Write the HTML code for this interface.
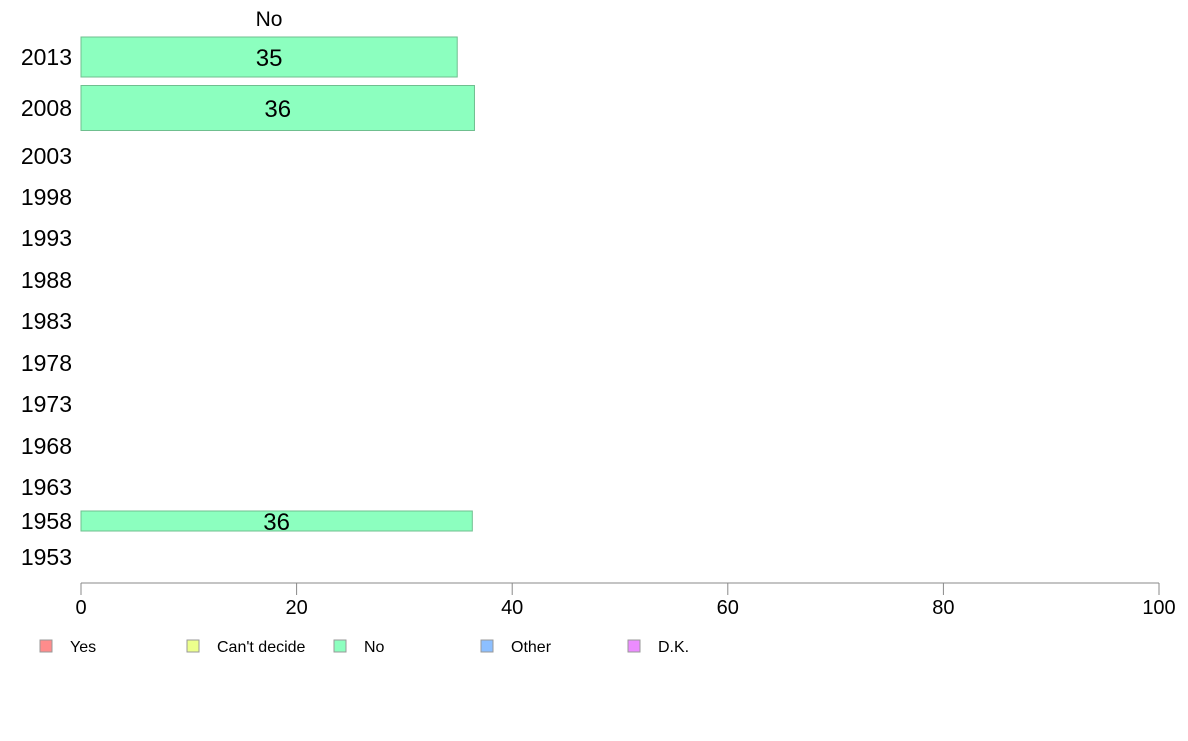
<!DOCTYPE html>
<html><head><meta charset="utf-8"><style>
body{margin:0;background:#fff;font-family:"Liberation Sans",sans-serif;}
svg text{font-family:"Liberation Sans",sans-serif;}
</style></head><body>
<svg id="chart" width="1188" height="736" xmlns="http://www.w3.org/2000/svg">
<text x="269" y="26" font-size="21" text-anchor="middle">No</text>
<g id="bars"></g>
<g id="ylabels"></g>
<g id="xaxis"></g>
<g id="legend"></g>
</svg>
<script>
const categories=["2013","2008","2003","1998","1993","1988","1983","1978","1973","1968","1963","1958","1953"];
const noValues=[34.9,36.5,null,null,null,null,null,null,null,null,null,36.3,null];
const valueLabels=["35","36","","","","","","","","","","36",""];
const xTicks=[0,20,40,60,80,100];
const legendLabels=["Yes","Can't decide","No","Other","D.K."];
const legendColors=["#ff8c8c","#ecff8c","#8cffbf","#8cbfff","#ec8cff"];
// layout (row centers / heights, not data)
const rowCenter=[57,108,156,197,238,280,321,363,404,446,487,521,557];
const rowHeight=[40,45,0,0,0,0,0,0,0,0,0,20,0];
const X0=81,X1=1159;
const x=v=>X0+(v/100)*(X1-X0);
const NS="http://www.w3.org/2000/svg";
function mk(tag,attrs,parent){const e=document.createElementNS(NS,tag);for(const k in attrs)e.setAttribute(k,attrs[k]);parent.appendChild(e);return e;}
const gb=document.getElementById('bars'),gy=document.getElementById('ylabels'),gx=document.getElementById('xaxis'),gl=document.getElementById('legend');
categories.forEach((c,i)=>{
  const t=mk('text',{x:72,y:rowCenter[i]+8,'font-size':23,'text-anchor':'end'},gy);
  t.textContent=c;
  
  
  const v=noValues[i];
  if(v!=null){
    const h=rowHeight[i]||20;
    const r=mk('rect',{x:X0,y:rowCenter[i]-h/2,width:x(v)-X0,height:h,fill:'#8cffbf',stroke:'#6fbf8f','stroke-width':1},gb);
    
    
    const lt=mk('text',{x:(X0+x(v))/2,y:rowCenter[i]+9,'font-size':24,'text-anchor':'middle'},gb);
    lt.textContent=valueLabels[i];
    
    
  }
});
const ax=mk('line',{x1:X0,x2:X1,y1:583,y2:583,stroke:'#888','stroke-width':1},gx);


xTicks.forEach(v=>{
  const l=mk('line',{x1:x(v),x2:x(v),y1:583,y2:595,stroke:'#888'},gx);
  
  
  const t=mk('text',{x:x(v),y:614,'font-size':20,'text-anchor':'middle'},gx);
  t.textContent=v;
  
  
});
legendLabels.forEach((lab,i)=>{
  const bx=40+i*147;
  const r=mk('rect',{x:bx,y:640,width:12,height:12,fill:legendColors[i],stroke:'#999'},gl);
  
  
  const t=mk('text',{x:bx+30,y:652,'font-size':16},gl);
  t.textContent=lab;
  
  
});
</script>
</body></html>
